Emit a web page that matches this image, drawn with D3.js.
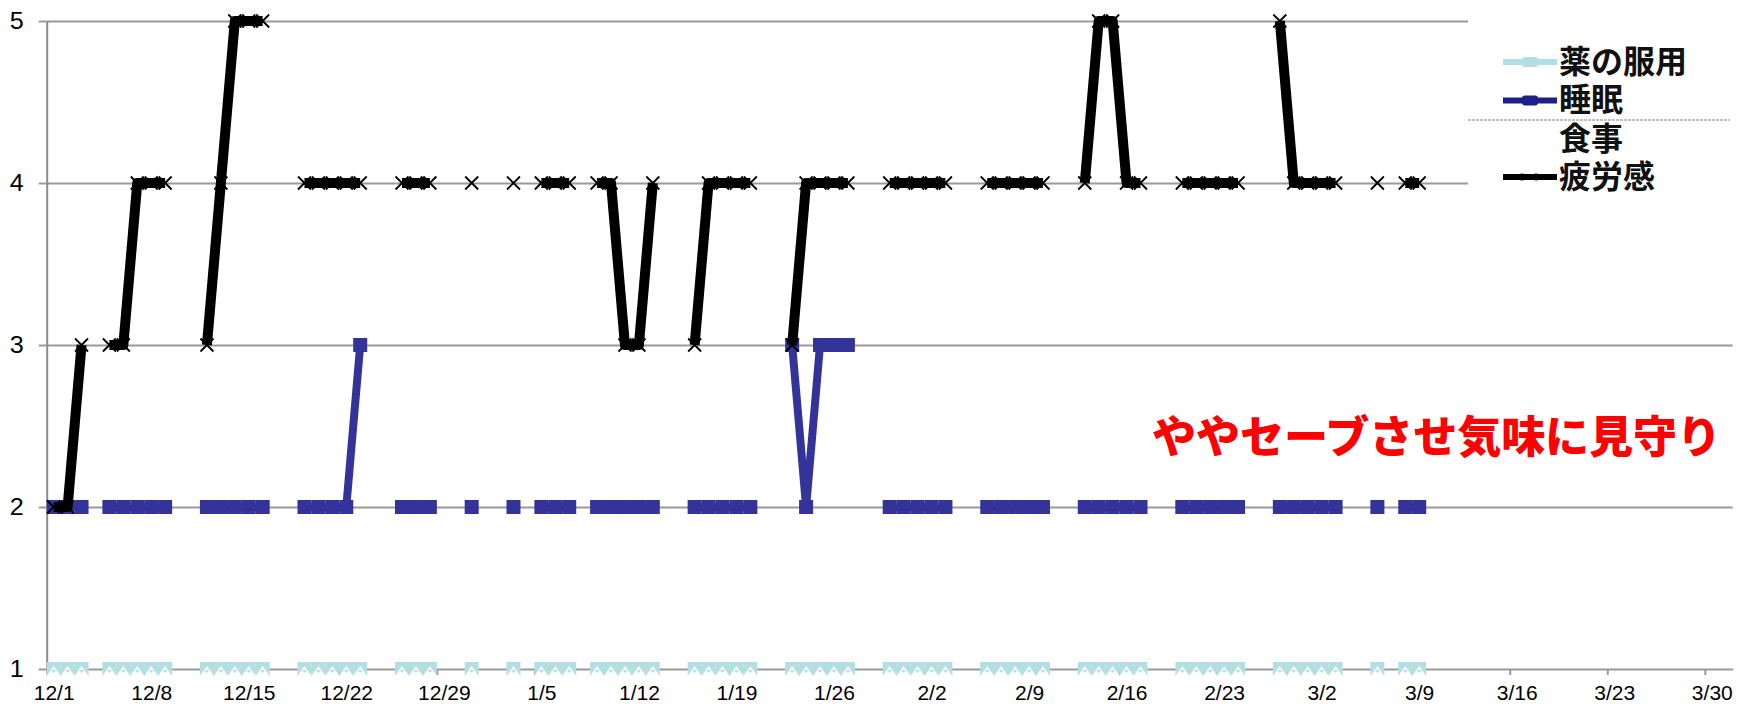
<!DOCTYPE html>
<html><head><meta charset="utf-8">
<script src="https://cdn.jsdelivr.net/npm/d3@7"></script>
<style>body{margin:0;background:#fff;overflow:hidden}</style>
</head><body><svg id="c" width="1746" height="704"></svg>
<script>
// ---- data ----
const dates = ["12/1","12/2","12/3","12/5","12/6","12/7","12/8","12/9","12/12","12/13","12/14","12/15","12/16",
  "12/19","12/20","12/21","12/22","12/23","12/26","12/27","12/28","12/31","1/3","1/5","1/6","1/7",
  "1/9","1/10","1/11","1/12","1/13","1/16","1/17","1/18","1/19","1/20","1/23","1/24","1/25","1/26","1/27",
  "1/30","1/31","2/1","2/2","2/3","2/6","2/7","2/8","2/9","2/10","2/13","2/14","2/15","2/16","2/17",
  "2/20","2/21","2/22","2/23","2/24","2/27","2/28","3/1","3/2","3/3","3/6","3/8","3/9"];
const medicine = [1,1,1,1,1,1,1,1,1,1,1,1,1, 1,1,1,1,1,1,1,1,1,1,1,1,1, 1,1,1,1,1,1,1,1,1,1,1,1,1,1,1,
  1,1,1,1,1,1,1,1,1,1,1,1,1,1,1, 1,1,1,1,1,1,1,1,1,1,1,1,1];
const sleep = [2,2,2,2,2,2,2,2,2,2,2,2,2, 2,2,2,2,3,2,2,2,2,2,2,2,2, 2,2,2,2,2,2,2,2,2,2,3,2,3,3,3,
  2,2,2,2,2,2,2,2,2,2,2,2,2,2,2, 2,2,2,2,2,2,2,2,2,2,2,2,2];
const meal = dates.map(() => null); // 食事: no values plotted
const fatigue = [2,2,3,3,3,4,4,4,3,4,5,5,5, 4,4,4,4,4,4,4,4,4,4,4,4,4, 4,4,3,3,4,3,4,4,4,4,3,4,4,4,4,
  4,4,4,4,4,4,4,4,4,4,4,5,5,4,4, 4,4,4,4,4,5,4,4,4,4,4,4,4];
const tickLabels = ["12/1","12/8","12/15","12/22","12/29","1/5","1/12","1/19","1/26","2/2","2/9","2/16","2/23","3/2","3/9","3/16","3/23","3/30"];
const yTicks = [1,2,3,4,5];
const seriesNames = ["薬の服用","睡眠","食事","疲労感"];
const note = "ややセーブさせ気味に見守り";

// ---- scales ----
const DAY = 864e5;
const parse = s => { const [m,d] = s.split("/").map(Number); return new Date(Date.UTC(m === 12 ? 2016 : 2017, m - 1, d)); };
const x0 = parse("12/1"), x1 = new Date(parse("3/31").getTime() + DAY);
const x = d3.scaleUtc().domain([x0, x1]).range([46.7, 1732.7]);
const half = (x(new Date(x0.getTime() + DAY)) - x(x0)) / 2;
const xc = d => x(d) + half;
const y = d3.scaleLinear().domain([1, 5]).range([669, 21]);

const allDays = d3.utcDays(x0, x1);
function daily(vals) {
  const m = new Map(dates.map((s, i) => [+parse(s), vals[i]]));
  return allDays.map(d => ({ d, v: m.has(+d) ? m.get(+d) : null }));
}

const svg = d3.select("#c");
const num = "'Liberation Sans', Arial, sans-serif";
const jp = "'Noto Sans CJK JP', sans-serif";

// gridlines
svg.append("g").attr("transform", "translate(46.7,0)")
  .call(d3.axisLeft(y).tickValues(yTicks.filter(v => v > 1)).tickSize(-(1732.7 - 46.7)).tickFormat(""))
  .call(g => g.select(".domain").remove())
  .call(g => g.selectAll("line").attr("stroke", "#9a9a9a").attr("stroke-width", 2));

// legend background hides gridlines
svg.append("rect").attr("x", 1468).attr("y", 6).attr("width", 278).attr("height", 196).attr("fill", "#fff");

// y axis
svg.append("g").attr("transform", "translate(46.7,0)")
  .call(d3.axisLeft(y).tickValues(yTicks).tickSize(8).tickSizeOuter(0).tickPadding(15).tickFormat(d3.format("d")))
  .call(g => g.select(".domain").attr("stroke", "#8c8c8c").attr("stroke-width", 2))
  .call(g => g.selectAll("line").attr("stroke", "#9a9a9a").attr("stroke-width", 2))
  .call(g => g.selectAll("text").attr("font-family", num).attr("font-size", 23.5).attr("fill", "#000")
    .attr("textLength", 14).attr("lengthAdjust", "spacingAndGlyphs"));

// x axis
svg.append("g").attr("transform", `translate(0,${y(1)})`)
  .call(d3.axisBottom(x).tickValues(tickLabels.map(parse)).tickSize(6).tickSizeOuter(0).tickFormat((d, i) => tickLabels[i]))
  .call(g => g.select(".domain").attr("stroke", "#9a9a9a").attr("stroke-width", 2))
  .call(g => g.selectAll("line").attr("stroke", "#9a9a9a").attr("stroke-width", 2))
  .call(g => g.selectAll("text").attr("x", half).attr("y", 31).attr("dy", null)
    .attr("font-family", num).attr("font-size", 21).attr("fill", "#000"));

const line = d3.line().defined(p => p.v != null).x(p => xc(p.d)).y(p => y(p.v));

// 薬の服用
const med = daily(medicine);
const cyan = "#b3dfe2";
svg.append("path").datum(med).attr("d", line).attr("fill", "none").attr("stroke", cyan).attr("stroke-width", 5);
const mg = svg.append("g");
med.filter(p => p.v != null).forEach(p => {
  const cx = xc(p.d), cy = y(p.v);
  mg.append("rect").attr("x", cx - 7).attr("y", cy - 7).attr("width", 14).attr("height", 14).attr("fill", cyan);
  mg.append("path").attr("d", `M${cx - 7},${cy + 7}L${cx},${cy - 3}L${cx + 7},${cy + 7}Z`).attr("fill", "#fff");
  mg.append("path").attr("d", `M${cx - 2.5},${cy + 1}L${cx + 2.5},${cy + 1}L${cx},${cy + 4}Z`).attr("fill", cyan);
});

// 睡眠
const navy = "#333399";
const sl = daily(sleep);
svg.append("path").datum(sl).attr("d", line).attr("fill", "none").attr("stroke", navy).attr("stroke-width", 8).attr("stroke-linejoin", "round");
svg.append("g").selectAll("rect").data(sl.filter(p => p.v != null)).join("rect")
  .attr("x", p => xc(p.d) - 7).attr("y", p => y(p.v) - 7).attr("width", 14).attr("height", 14).attr("fill", navy);

// 食事 (no data)
const ml = daily(meal);
svg.append("path").datum(ml).attr("d", line).attr("fill", "none").attr("stroke", "#fff");

// 疲労感
const fa = daily(fatigue);
svg.append("path").datum(fa).attr("d", line).attr("fill", "none").attr("stroke", "#000").attr("stroke-width", 10).attr("stroke-linejoin", "round");
svg.append("g").selectAll("path").data(fa.filter(p => p.v != null)).join("path")
  .attr("d", p => { const cx = xc(p.d), cy = y(p.v); return `M${cx - 6.5},${cy - 6.5}L${cx + 6.5},${cy + 6.5}M${cx - 6.5},${cy + 6.5}L${cx + 6.5},${cy - 6.5}`; })
  .attr("stroke", "#000").attr("stroke-width", 1.8).attr("fill", "none");

// legend
const lg = svg.append("g");
const rows = [73, 111, 150, 188];
const centers = [62, 100.5, 140, 177];
lg.append("line").attr("x1", 1468).attr("x2", 1730).attr("y1", 120).attr("y2", 120)
  .attr("stroke", "#aaa").attr("stroke-width", 1.5).attr("stroke-dasharray", "3,1");
const lcol = [cyan, "#1f1f88", null, "#000"];
seriesNames.forEach((n, i) => {
  if (lcol[i]) {
    lg.append("line").attr("x1", 1503).attr("x2", 1557).attr("y1", centers[i]).attr("y2", centers[i])
      .attr("stroke", lcol[i]).attr("stroke-width", 6);
    if (i === 3) {
      [1522, 1536].forEach(cx => lg.append("circle").attr("cx", cx).attr("cy", centers[i]).attr("r", 3.5).attr("fill", "#000"));
    } else {
      lg.append("rect").attr("x", 1522).attr("y", centers[i] - 5).attr("width", 16).attr("height", 10).attr("rx", 3).attr("fill", lcol[i]);
    }
  }
  lg.append("text").attr("x", 1559).attr("y", rows[i]).text(n)
    .attr("font-family", jp).attr("font-size", 32).attr("font-weight", 700).attr("fill", "#111");
});

// annotation
svg.append("text").attr("x", 1152).attr("y", 453).text(note)
  .attr("textLength", 569).attr("lengthAdjust", "spacing")
  .attr("font-family", jp).attr("font-size", 44).attr("font-weight", 900).attr("fill", "#ff0000");
</script>
</body></html>
